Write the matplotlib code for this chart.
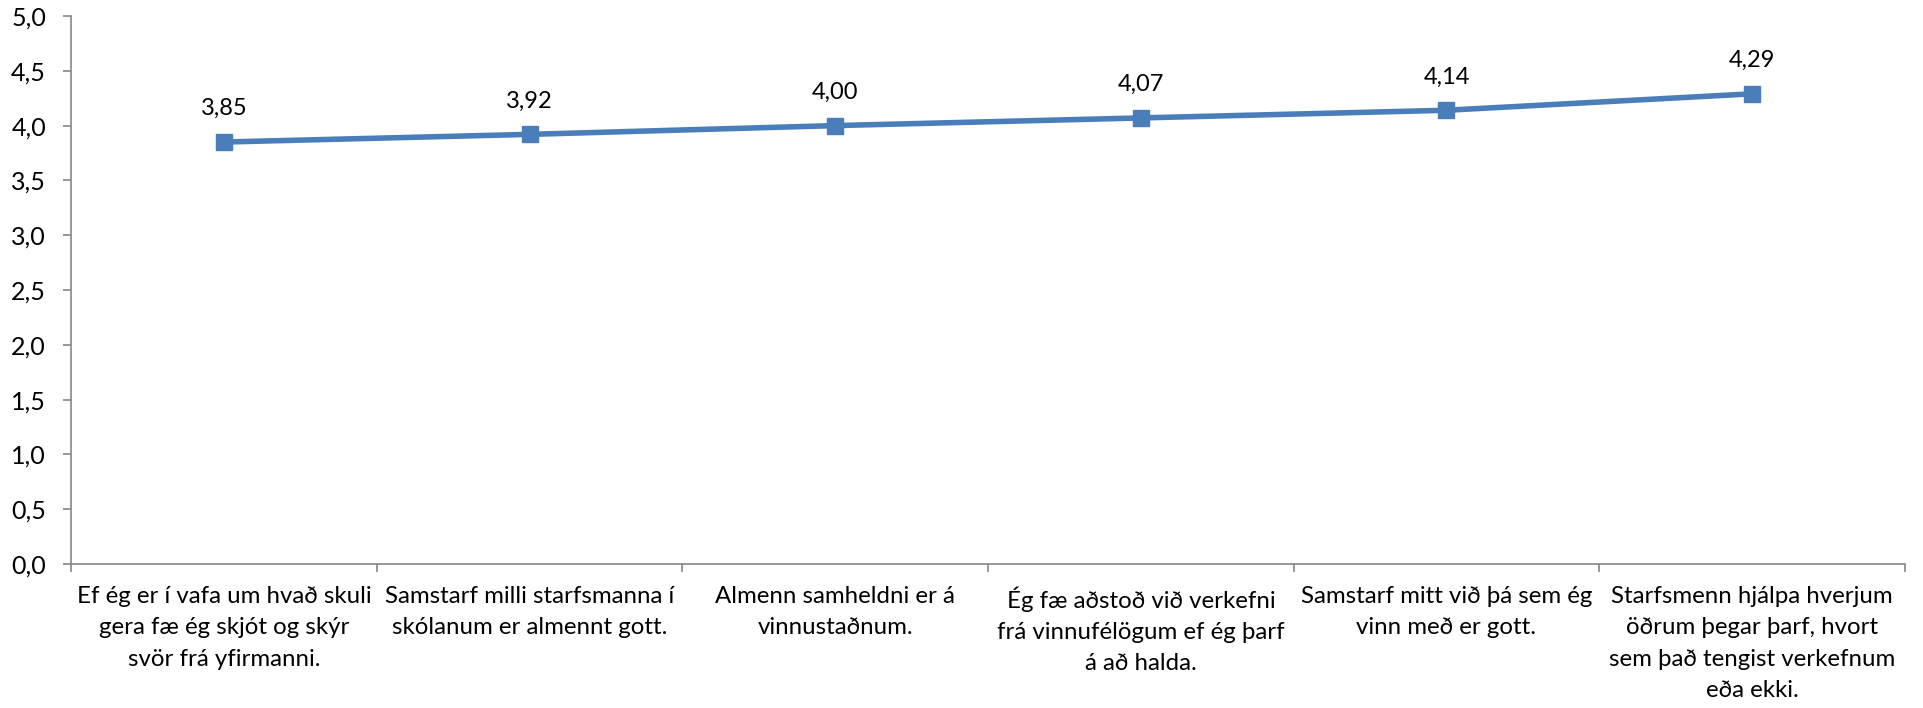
import matplotlib
matplotlib.use("Agg")
import matplotlib.pyplot as plt

plt.rcParams['font.family'] = ['Lato', 'DejaVu Sans']

categories = [
    "Ef ég er í vafa um hvað skuli\ngera fæ ég skjót og skýr\nsvör frá yfirmanni.",
    "Samstarf milli starfsmanna í\nskólanum er almennt gott.",
    "Almenn samheldni er á\nvinnustaðnum.",
    "Ég fæ aðstoð við verkefni\nfrá vinnufélögum ef ég þarf\ná að halda.",
    "Samstarf mitt við þá sem ég\nvinn með er gott.",
    "Starfsmenn hjálpa hverjum\nöðrum þegar þarf, hvort\nsem það tengist verkefnum\neða ekki.",
]
values = [3.85, 3.92, 4.00, 4.07, 4.14, 4.29]
yticks = [0.0, 0.5, 1.0, 1.5, 2.0, 2.5, 3.0, 3.5, 4.0, 4.5, 5.0]

fig = plt.figure(figsize=(19.23, 7.08), dpi=100)
ax = fig.add_axes([71/1923, 144/708, 1834/1923, 548/708])

x = list(range(len(values)))
ax.plot(x, values, color="#4A7EBB", lw=4, marker="s", ms=11, mec="#4A7EBB")
for xi, v in zip(x, values):
    ax.annotate(f"{v:.2f}".replace(".", ","), (xi, v), xytext=(0, 24),
                textcoords="offset points", ha="center", va="center", fontsize=17)

ax.set_xlim(-0.5, len(values) - 0.5)
ax.set_ylim(0, 5)
ax.set_yticks(yticks)
ax.set_yticklabels([f"{t:.1f}".replace(".", ",") for t in yticks], fontsize=18)
ax.set_xticks(x)
ax.set_xticklabels(categories, fontsize=17.3, linespacing=1.6)
ax.set_xticks([i - 0.5 for i in range(len(values) + 1)], minor=True)
ax.tick_params(axis="x", which="major", length=0, pad=16)
ax.tick_params(axis="x", which="minor", length=6, color="#868686", width=1.2)
ax.tick_params(axis="y", length=6, color="#868686", width=1.2, pad=12)

for s in ["top", "right"]:
    ax.spines[s].set_visible(False)
for s in ["left", "bottom"]:
    ax.spines[s].set_color("#868686")
    ax.spines[s].set_linewidth(1.2)

fig.savefig("out.png", dpi=100)
